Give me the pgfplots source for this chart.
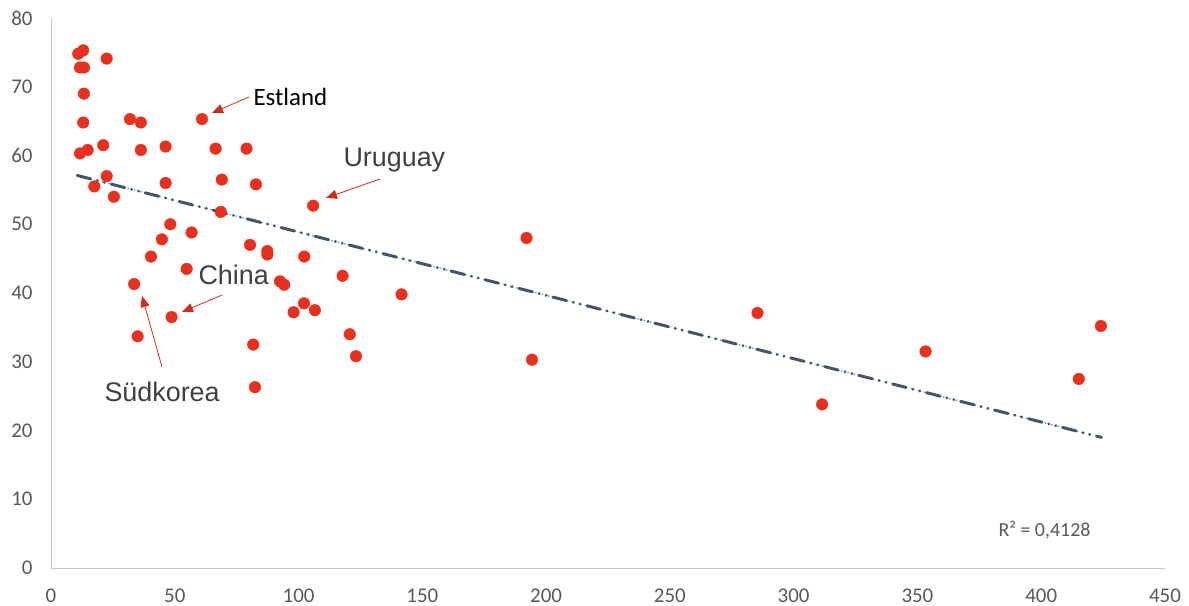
\documentclass[border=0pt]{standalone}
\usepackage{pgfplots}
\pgfplotsset{compat=1.18}
\usepackage{fontspec}
\setmainfont{Carlito}
\newfontfamily\arial{Liberation Sans}
\usetikzlibrary{arrows.meta}
\definecolor{dotred}{RGB}{232,48,30}
\definecolor{trenddark}{RGB}{68,84,106}
\definecolor{trendblue}{RGB}{91,155,213}
\definecolor{txtgray}{RGB}{64,64,64}
\definecolor{ticktxt}{RGB}{89,89,89}
\begin{document}
\begin{tikzpicture}
\begin{axis}[
    at={(0,0)}, anchor=south west,
    scale only axis,
    width=1114bp, height=550bp,
    xmin=0, xmax=450, ymin=0, ymax=80,
    xtick={0,50,...,450}, ytick={0,10,...,80},
    axis lines*=left,
    axis line style={draw=black!22, line width=1pt},
    major tick length=0pt,
    tick label style={font=\fontsize{21}{21}\selectfont, text=ticktxt},
    /pgf/number format/assume math mode=true,
    xticklabel style={yshift=-17bp},
    yticklabel style={xshift=-15bp},
    clip=false,
]
% trend line
\addplot[trendblue, line width=1.8pt, dash pattern=on 0.1pt off 6.5pt, line cap=round]
    coordinates {(10.6,57.1) (424.3,19.0)};
\addplot[trenddark, line width=3pt, dash pattern=on 14pt off 7pt on 0.1pt off 7pt on 0.1pt off 7pt, line cap=round]
    coordinates {(10.6,57.1) (424.3,19.0)};
% data points
\addplot[only marks, mark=*, mark size=5.8bp, mark options={fill=dotred, draw=dotred}]
    coordinates {
    (11.0,74.8) (13.0,75.3) (11.7,72.8) (13.3,72.8) (22.5,74.1)
    (13.3,69.0) (13.0,64.8) (11.7,60.3) (14.8,60.8) (21.1,61.5)
    (22.5,57.0) (17.5,55.5) (25.4,54.0) (31.9,65.3) (36.3,64.8)
    (36.3,60.8) (46.3,61.3) (46.3,56.0) (61.0,65.3) (66.5,61.0)
    (79.0,61.0) (69.0,56.5) (82.8,55.8) (68.6,51.8) (48.2,50.0)
    (44.8,47.8) (56.8,48.8) (40.4,45.3) (80.4,47.0) (87.4,46.1)
    (87.4,45.6) (102.3,45.3) (105.9,52.7) (117.8,42.5) (54.8,43.5)
    (33.6,41.3) (92.5,41.7) (94.2,41.2) (141.6,39.8) (35.0,33.7)
    (48.7,36.5) (81.7,32.5) (82.4,26.3) (98.0,37.2) (102.2,38.5)
    (106.6,37.5) (120.7,34.0) (123.2,30.8) (192.1,48.0) (194.3,30.3)
    (285.4,37.1) (311.5,23.8) (353.3,31.5) (415.2,27.5) (424.1,35.2)
    };
\end{axis}
% annotations (positions relative to axis origin)
\begin{scope}[arr/.style={draw=dotred!90!black, line width=0.8pt, -{Triangle[length=11bp,width=9bp]}}]
\draw[arr] (198bp,471bp) -- (161bp,455bp);
\node[anchor=west, text=black, font=\fontsize{25}{25}\selectfont] at (199bp,471bp) {Estland};
\draw[arr] (329bp,389bp) -- (275bp,370bp);
\node[anchor=west, text=txtgray, font=\arial\fontsize{27}{27}\selectfont] at (289bp,408bp) {Uruguay};
\draw[arr] (171bp,273bp) -- (131bp,256bp);
\node[anchor=west, text=txtgray, font=\arial\fontsize{27}{27}\selectfont] at (144bp,293bp) {China};
\draw[arr] (111bp,201bp) -- (91bp,272bp);
\node[anchor=west, text=txtgray, font=\arial\fontsize{27}{27}\selectfont] at (50bp,176bp) {Südkorea};
\end{scope}
\node[anchor=west, text=ticktxt, font=\fontsize{20}{20}\selectfont] at (944bp,38bp) {R² = 0,4128};
\pgfresetboundingbox
\path[use as bounding box] (-51bp,-38bp) rectangle (1138bp,568bp);
\end{tikzpicture}
\end{document}
